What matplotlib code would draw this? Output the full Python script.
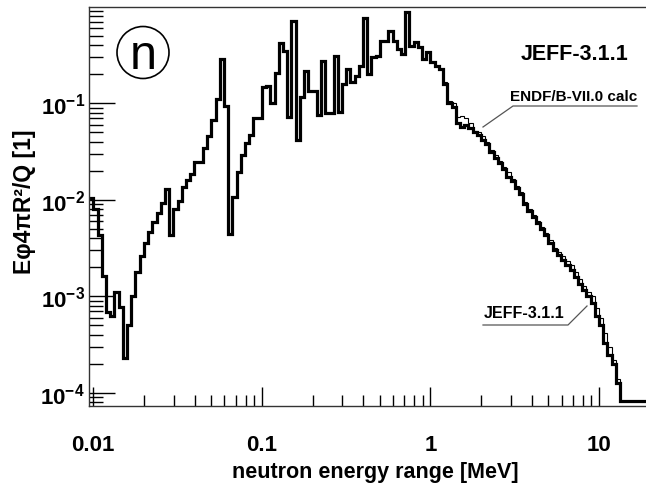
import numpy as np
import matplotlib
matplotlib.use('Agg')
import matplotlib.pyplot as plt
from matplotlib.lines import Line2D
from matplotlib.patches import Ellipse
from matplotlib.ticker import FixedLocator, FixedFormatter, LogLocator, NullFormatter

# neutron spectrum per log bin, 40 bins per decade starting one bin below 0.01 MeV
jeff_low = [0.0105, 0.0080, 0.0043, 0.00164, 0.00069, 0.00063, 0.00112, 0.00077, 0.00023, 0.00050,
            0.00102, 0.00181, 0.00264, 0.00355, 0.00469, 0.00594, 0.00726, 0.00929, 0.0130, 0.00436,
            0.0080, 0.0098, 0.0135, 0.0161, 0.0185, 0.0245, 0.0245, 0.0342, 0.0455, 0.0672,
            0.111, 0.288, 0.0931, 0.00443, 0.0106, 0.0193, 0.0292, 0.0386, 0.0473, 0.070, 0.070]
jeff_mid = [0.147, 0.152, 0.100, 0.205, 0.421, 0.345, 0.0716, 0.716, 0.0417, 0.115,
            0.217, 0.133, 0.133, 0.0762, 0.276, 0.0787, 0.0787, 0.307, 0.0818, 0.158,
            0.226, 0.165, 0.193, 0.245, 0.770, 0.201, 0.299, 0.311, 0.439, 0.439,
            0.565, 0.445, 0.365, 0.324, 0.875, 0.395, 0.428, 0.380, 0.288, 0.337]
jeff_tail = [0.266, 0.245, 0.226, 0.158, 0.100, 0.091, 0.063, 0.057, 0.060, 0.055,
             0.050, 0.0468, 0.0417, 0.0380, 0.0316, 0.0269, 0.0240, 0.0209, 0.0174, 0.0158,
             0.0132, 0.0115, 0.0091, 0.0076, 0.0066, 0.0058, 0.0050, 0.0043, 0.0036, 0.0030,
             0.0027, 0.0024, 0.0021, 0.00186, 0.00158, 0.00135, 0.00117, 0.00100, 0.00085, 0.00063,
             0.00050, 0.00033, 0.00025, 0.00020, 0.000126,
             8.2e-5, 8.2e-5, 8.2e-5, 8.2e-5, 8.2e-5, 8.2e-5, 8.2e-5]
# ENDF/B-VII.0 only departs from JEFF above 1 MeV
endf_tail = [0.266, 0.245, 0.226, 0.165, 0.105, 0.100, 0.072, 0.074, 0.070, 0.062,
             0.052, 0.050, 0.046, 0.040, 0.033, 0.029, 0.025, 0.022, 0.0195, 0.0165,
             0.0138, 0.0120, 0.0096, 0.0080, 0.0070, 0.0061, 0.0052, 0.0045, 0.0038, 0.0032,
             0.0029, 0.0026, 0.0023, 0.0021, 0.00178, 0.00150, 0.00128, 0.00112, 0.00100, 0.00076,
             0.00060, 0.00042, 0.00030, 0.00022, 0.00014,
             8.2e-5, 8.2e-5, 8.2e-5, 8.2e-5, 8.2e-5, 8.2e-5, 8.2e-5]

xticks = [0.01, 0.1, 1, 10]
xticklabels = ['0.01', '0.1', '1', '10']
yticks = [1e-4, 1e-3, 1e-2, 1e-1]
yticklabels = [r'$\mathbf{10^{-4}}$', r'$\mathbf{10^{-3}}$', r'$\mathbf{10^{-2}}$', r'$\mathbf{10^{-1}}$']

plt.rcParams['font.family'] = ['Liberation Sans', 'DejaVu Sans']
plt.rcParams['font.weight'] = 'bold'
plt.rcParams['mathtext.fontset'] = 'custom'
plt.rcParams['mathtext.rm'] = 'Liberation Sans:bold'
plt.rcParams['mathtext.bf'] = 'Liberation Sans:bold'
narrow = ['Liberation Sans Narrow', 'Liberation Sans']

W, H = 646, 485
fig = plt.figure(figsize=(W / 100, H / 100), dpi=100)
ax = fig.add_axes([89 / W, 1 - 407 / H, 1 - 89 / W, (407 - 8) / H])


def px(x, y):
    return x / W, 1 - y / H


edges = 10 ** (-2 + np.arange(-1, 133) / 40)
jeff = np.array(jeff_low + jeff_mid + jeff_tail)
endf = np.array(jeff_low + jeff_mid + endf_tail)

ax.stairs(endf, edges, baseline=None, color='black', lw=0.8)
ax.stairs(jeff, edges, baseline=None, color='black', lw=2.3)

ax.set_xscale('log')
ax.set_yscale('log')
ax.set_xlim(0.00943, 19.0)
ax.set_ylim(7.33e-5, 0.9935)

ax.xaxis.set_major_locator(FixedLocator(xticks))
ax.xaxis.set_major_formatter(FixedFormatter(xticklabels))
ax.xaxis.set_minor_locator(LogLocator(base=10, subs=np.arange(2, 10), numticks=20))
ax.xaxis.set_minor_formatter(NullFormatter())
ax.yaxis.set_major_locator(FixedLocator(yticks))
ax.yaxis.set_major_formatter(FixedFormatter(yticklabels))
ax.yaxis.set_minor_locator(LogLocator(base=10, subs=np.arange(2, 10), numticks=20))
ax.yaxis.set_minor_formatter(NullFormatter())

ax.tick_params(axis='x', which='major', direction='in', length=14, width=1, pad=20, labelsize=16)
ax.tick_params(axis='x', which='minor', direction='in', length=8, width=1)
ax.tick_params(axis='y', which='major', direction='in', length=19, width=1, pad=3, labelsize=16)
ax.tick_params(axis='y', which='minor', direction='in', length=10, width=1)
for lab in ax.get_xticklabels():
    lab.set_fontweight('bold')

ax.spines['right'].set_visible(False)
for s in ['left', 'bottom', 'top']:
    ax.spines[s].set_linewidth(1.0)
    ax.spines[s].set_color('#333333')

fig.text(*px(24, 202), 'Eφ4πR²/Q [1]', rotation=90, ha='center', va='center',
         fontsize=16.5, fontweight='bold')
fig.text(*px(375, 478), 'neutron energy range [MeV]', ha='center', va='baseline',
         fontsize=15.5, fontweight='bold')

# particle marker in the corner
fig.add_artist(Ellipse(px(143, 53.5), 52 / W, 52 / H, transform=fig.transFigure,
                       fill=False, ec='black', lw=1.2))
fig.text(*px(143.5, 69), 'n', family=narrow, fontsize=35, fontweight='normal',
         ha='center', va='baseline')

fig.text(*px(575, 60), 'JEFF-3.1.1', family=narrow, fontsize=15.5, fontweight='bold',
         ha='center', va='baseline')
fig.text(*px(574, 101), 'ENDF/B-VII.0 calc', family=narrow, fontsize=11, fontweight='bold',
         ha='center', va='baseline')
fig.text(*px(524, 318), 'JEFF-3.1.1', family=narrow, fontsize=11.5, fontweight='bold',
         ha='center', va='baseline')

# leader lines for the two curve labels
for xs, ys in [([637, 513, 483], [107, 107, 128]), ([483, 568, 587], [326, 326, 307])]:
    fig.add_artist(Line2D([x / W for x in xs], [1 - y / H for y in ys],
                          transform=fig.transFigure, color='#555555', lw=0.9))

fig.savefig('out.png', dpi=100)
